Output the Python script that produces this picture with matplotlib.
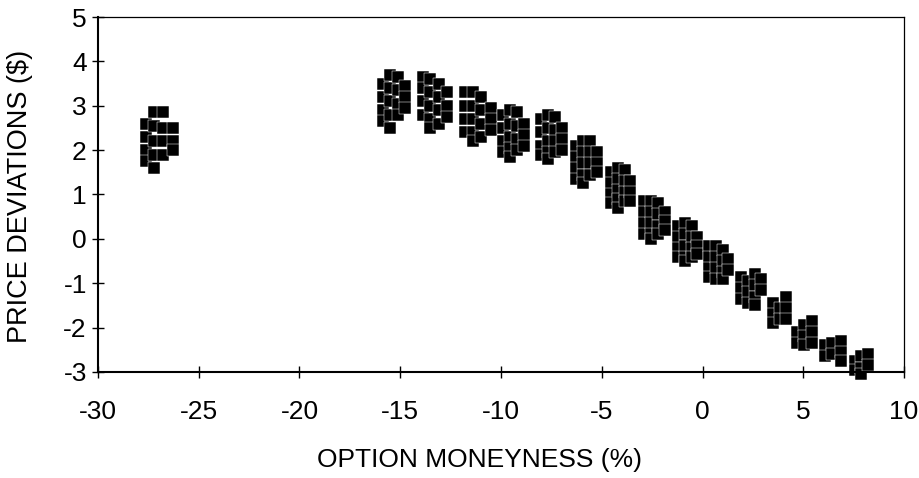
import numpy as np
import matplotlib.pyplot as plt

# option moneyness (%) and pricing error ($), grouped by strike cluster
moneyness = [
    -27.6, -27.6, -27.6, -27.6, -27.2, -27.2, -27.2, -27.2, -27.2, -26.75, -26.75, -26.75, -26.75, -26.3, -26.3, -26.3,
    -15.85, -15.85, -15.85, -15.85, -15.5, -15.5, -15.5, -15.5, -15.5, -15.1, -15.1, -15.1, -15.1, -14.75, -14.75, -14.75,
    -13.85, -13.85, -13.85, -13.85, -13.5, -13.5, -13.5, -13.5, -13.5, -13.1, -13.1, -13.1, -13.1, -12.7, -12.7, -12.7,
    -11.8, -11.8, -11.8, -11.8, -11.4, -11.4, -11.4, -11.4, -11.4, -11.0, -11.0, -11.0, -11.0, -10.5, -10.5, -10.5,
    -9.9, -9.9, -9.9, -9.9, -9.55, -9.55, -9.55, -9.55, -9.55, -9.2, -9.2, -9.2, -9.2, -8.85, -8.85, -8.85,
    -8.0, -8.0, -8.0, -8.0, -7.65, -7.65, -7.65, -7.65, -7.65, -7.3, -7.3, -7.3, -7.3, -6.95, -6.95, -6.95,
    -6.3, -6.3, -6.3, -6.3, -5.95, -5.95, -5.95, -5.95, -5.95, -5.6, -5.6, -5.6, -5.6, -5.25, -5.25, -5.25,
    -4.55, -4.55, -4.55, -4.55, -4.2, -4.2, -4.2, -4.2, -4.2, -3.85, -3.85, -3.85, -3.85, -3.6, -3.6, -3.6,
    -2.9, -2.9, -2.9, -2.9, -2.55, -2.55, -2.55, -2.55, -2.55, -2.2, -2.2, -2.2, -2.2, -1.85, -1.85, -1.85,
    -1.2, -1.2, -1.2, -1.2, -0.85, -0.85, -0.85, -0.85, -0.85, -0.5, -0.5, -0.5, -0.5, -0.25, -0.25, -0.25,
    0.3, 0.3, 0.3, 0.3, 0.65, 0.65, 0.65, 0.65, 1.0, 1.0, 1.0, 1.0, 1.25, 1.25,
    1.9, 1.9, 1.9, 2.25, 2.25, 2.25, 2.6, 2.6, 2.6, 2.6, 2.9, 2.9,
    3.5, 3.5, 3.5, 3.85, 3.85, 4.15, 4.15, 4.15,
    4.7, 4.7, 5.05, 5.05, 5.05, 5.45, 5.45, 5.45,
    6.1, 6.1, 6.45, 6.45, 6.85, 6.85, 6.85,
    7.55, 7.55, 7.85, 7.85, 7.85, 8.2, 8.2,
]
price_dev = [
    2.6, 2.3, 2.0, 1.75, 2.85, 2.55, 2.2, 1.9, 1.6, 2.85, 2.5, 2.2, 1.9, 2.5, 2.2, 2.0,
    3.5, 3.2, 2.9, 2.65, 3.7, 3.4, 3.1, 2.8, 2.5, 3.65, 3.35, 3.05, 2.8, 3.45, 3.2, 2.95,
    3.65, 3.4, 3.1, 2.8, 3.6, 3.3, 3.0, 2.7, 2.5, 3.5, 3.2, 2.9, 2.6, 3.3, 3.0, 2.75,
    3.3, 3.0, 2.7, 2.4, 3.3, 3.0, 2.7, 2.4, 2.2, 3.2, 2.9, 2.6, 2.3, 2.95, 2.7, 2.45,
    2.8, 2.5, 2.2, 1.95, 2.9, 2.6, 2.3, 2.05, 1.85, 2.85, 2.55, 2.25, 2.0, 2.6, 2.35, 2.1,
    2.7, 2.4, 2.1, 1.9, 2.8, 2.5, 2.2, 1.95, 1.8, 2.75, 2.45, 2.2, 1.95, 2.5, 2.25, 2.0,
    2.1, 1.85, 1.6, 1.35, 2.2, 1.95, 1.7, 1.45, 1.25, 2.2, 1.95, 1.7, 1.45, 1.95, 1.7, 1.5,
    1.5, 1.25, 1.0, 0.8, 1.6, 1.35, 1.1, 0.9, 0.7, 1.55, 1.3, 1.05, 0.85, 1.3, 1.05, 0.85,
    0.85, 0.6, 0.35, 0.1, 0.85, 0.6, 0.35, 0.1, 0.0, 0.8, 0.55, 0.3, 0.1, 0.6, 0.4, 0.2,
    0.3, 0.05, -0.2, -0.4, 0.35, 0.1, -0.15, -0.4, -0.5, 0.3, 0.05, -0.2, -0.4, 0.05, -0.15, -0.35,
    -0.15, -0.4, -0.65, -0.85, -0.15, -0.4, -0.65, -0.9, -0.25, -0.5, -0.75, -0.9, -0.45, -0.7,
    -0.85, -1.1, -1.35, -0.95, -1.2, -1.45, -0.8, -1.05, -1.3, -1.5, -0.9, -1.15,
    -1.45, -1.7, -1.9, -1.55, -1.8, -1.3, -1.55, -1.8,
    -2.1, -2.35, -1.95, -2.2, -2.4, -1.85, -2.1, -2.35,
    -2.4, -2.65, -2.35, -2.6, -2.3, -2.55, -2.75,
    -2.75, -2.95, -2.65, -2.9, -3.05, -2.6, -2.85,
]

x_ticks = [-30, -25, -20, -15, -10, -5, 0, 5, 10]
y_ticks = [-3, -2, -1, 0, 1, 2, 3, 4, 5]

plt.rcParams['font.family'] = ['Liberation Sans', 'DejaVu Sans']
plt.rcParams['axes.unicode_minus'] = False

fig = plt.figure(figsize=(9.19, 4.78), dpi=100)
ax = fig.add_axes([0.1066, 0.2218, 0.8771, 0.7426])

ax.plot(moneyness, price_dev, linestyle='none', marker='s', markersize=9,
        markerfacecolor='black', markeredgecolor='white', markeredgewidth=0.35,
        clip_on=False)

ax.set_xlim(-30, 10)
ax.set_ylim(-3, 5)
ax.set_xticks(x_ticks)
ax.set_yticks(y_ticks)
ax.tick_params(direction='inout', length=8, width=1, labelsize=19)
ax.tick_params(axis='x', pad=16)
ax.tick_params(axis='y', pad=4)

for side in ['left', 'bottom']:
    ax.spines[side].set_linewidth(1.5)
for side in ['top', 'right']:
    ax.spines[side].set_linewidth(0.9)

ax.set_xlabel('OPTION MONEYNESS (%)', fontsize=19)
ax.set_ylabel('PRICE DEVIATIONS ($)', fontsize=19.5)
ax.xaxis.set_label_coords(0.473, -0.215)
ax.yaxis.set_label_coords(-0.081, 0.495)

fig.savefig('out.png', dpi=100)
